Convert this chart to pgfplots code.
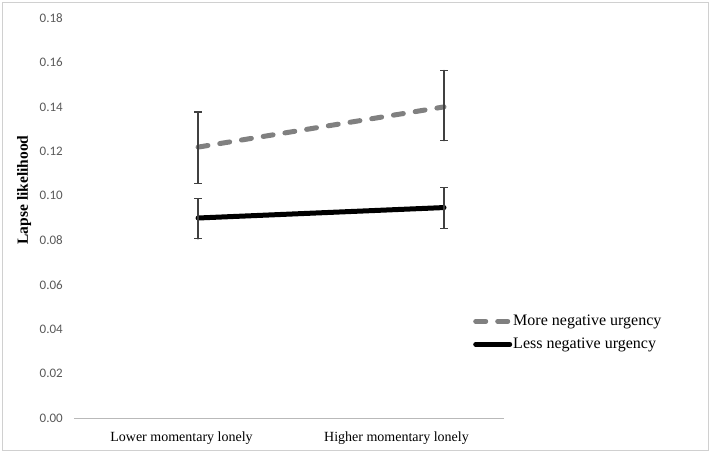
\documentclass[border=0pt]{standalone}
\usepackage{fontspec}
\setmainfont{Liberation Serif}
\newfontfamily\calibri{Carlito}
\usepackage{pgfplots}
\pgfplotsset{compat=1.18}
\definecolor{dashgray}{HTML}{808080}
\definecolor{ticktext}{HTML}{595959}
\definecolor{errcol}{HTML}{404040}
\definecolor{framecol}{HTML}{D0D0D0}
\begin{document}
\begin{tikzpicture}
\begin{axis}[
  name=ax,
  scale only axis,
  width=430pt, height=400pt,
  xmin=-0.5, xmax=1.5,
  ymin=0, ymax=0.18,
  clip=false,
  axis x line*=bottom,
  axis y line*=left,
  x axis line style={color=gray!55, line width=0.8pt, -},
  y axis line style={draw=none},
  major tick length=0pt,
  xtick={0,1},
  xticklabels={Lower momentary lonely, Higher momentary lonely},
  ytick={0,0.02,0.04,0.06,0.08,0.10,0.12,0.14,0.16,0.18},
  yticklabel style={/pgf/number format/fixed, /pgf/number format/fixed zerofill,
    /pgf/number format/precision=2, /pgf/number format/assume math mode=true},
  yticklabel style={font=\calibri\fontsize{13}{15}\selectfont, text=ticktext, anchor=east, inner sep=0pt, xshift=-11pt},
  xticklabel style={font=\fontsize{14}{16}\selectfont, anchor=north, inner sep=0pt, yshift=-14pt},
  ylabel={Lapse likelihood},
  ylabel style={font=\bfseries\fontsize{15.5}{17}\selectfont, at={(axis description cs:-0.116,0.57)}, anchor=center},
  legend style={at={(axis description cs:0.928,0.26)}, anchor=north west, draw=none, fill=none,
    font=\fontsize{16}{18}\selectfont, inner sep=0pt, row sep=9pt, column sep=0pt,
    nodes={inner xsep=1pt, inner ysep=1pt}},
  legend cell align=left,
  legend image code/.code={\draw[#1] (2.5pt,0pt) -- (36.5pt,0pt);},
  error bars/error bar style={solid, line width=1.2pt, color=errcol},
  error bars/error mark options={rotate=90, mark size=3.6pt, solid, line width=1.2pt, color=errcol},
]
\addplot[color=dashgray, line width=5pt, line cap=round, dash pattern=on 10pt off 12pt,
  error bars/.cd, y dir=both, y explicit]
  coordinates {(0.077,0.1219) += (0,0.0158) -= (0,0.0162) (1.221,0.1400) += (0,0.0164) -= (0,0.0152)};
\addlegendentry{More negative urgency}
\addplot[color=black, line width=5pt, line cap=round,
  error bars/.cd, y dir=both, y explicit]
  coordinates {(0.077,0.0900) += (0,0.0086) -= (0,0.0094) (1.221,0.0947) += (0,0.0089) -= (0,0.0093)};
\addlegendentry{Less negative urgency}
\end{axis}
\draw[color=framecol, line width=1pt] ([shift={(-71pt,-32pt)}]ax.south west) rectangle ([shift={(634pt,415pt)}]ax.south west);
\pgfresetboundingbox
\path ([shift={(-74pt,-35pt)}]ax.south west) rectangle ([shift={(637pt,418pt)}]ax.south west);
\end{tikzpicture}
\end{document}
